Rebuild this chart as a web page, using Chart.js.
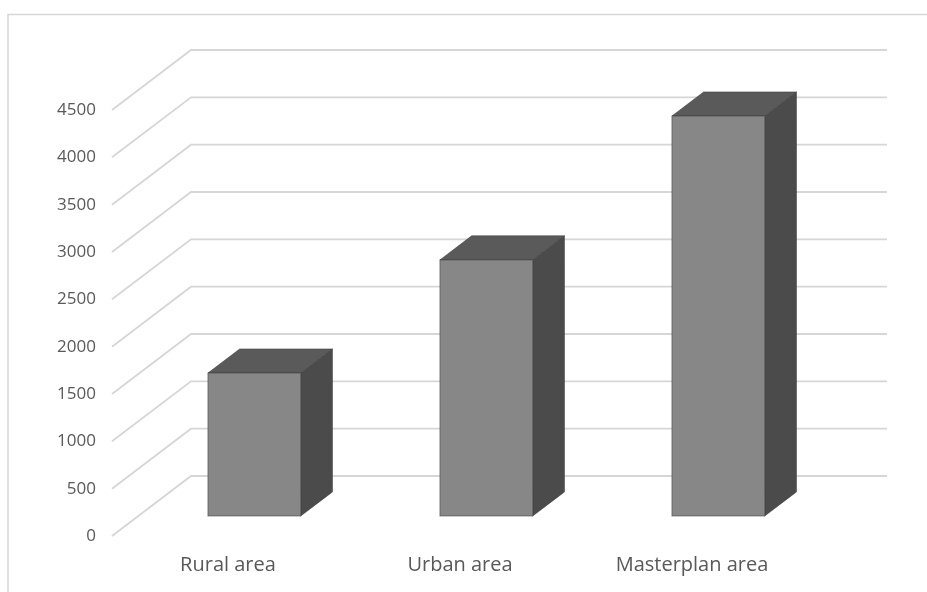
<!DOCTYPE html>
<html>
<head>
<meta charset="utf-8">
<script src="https://cdn.jsdelivr.net/npm/chart.js@4.4.0/dist/chart.umd.min.js"></script>
<style>
  body { margin: 0; background: #fff; }
  canvas { display: block; }
</style>
</head>
<body>
<canvas id="areaChart" width="927" height="592"></canvas>
<script>
const categories = ["Rural area", "Urban area", "Masterplan area"];
const areaValues = [1510, 2705, 4225];
const yMin = 0;
const yMax = 4500;
const yStep = 500;

// oblique offset from the front edge of the floor to the back wall
const depthX = 79;
const depthY = -60;
// the boxes sit between these fractions of that depth
const barFront = 1 / 3;
const barBack = 0.735;

const faceColor = "#878787";
const topColor = "#5a5a5a";
const sideColor = "#4b4b4b";
const gridColor = "#d6d6d6";
const textColor = "#595959";

const wall3d = {
    id: "wall3d",
    beforeDraw(chart) {
        // outer frame, top and left only
        const ctx = chart.ctx;
        ctx.save();
        ctx.strokeStyle = gridColor;
        ctx.lineWidth = 1.5;
        ctx.beginPath();
        ctx.moveTo(8, 592);
        ctx.lineTo(8, 14.5);
        ctx.lineTo(927, 14.5);
        ctx.stroke();
        ctx.restore();
    },
    beforeDatasetsDraw(chart) {
        const { ctx, chartArea, scales } = chart;
        const yScale = scales.y;
        ctx.save();
        ctx.strokeStyle = gridColor;
        ctx.lineWidth = 1.8;
        yScale.ticks.forEach(t => {
            const py = yScale.getPixelForValue(t.value);
            ctx.beginPath();
            ctx.moveTo(chartArea.left, py);
            ctx.lineTo(chartArea.left + depthX, py + depthY);
            ctx.lineTo(chartArea.right + depthX, py + depthY);
            ctx.stroke();
        });
        ctx.restore();
    },
    afterDatasetsDraw(chart) {
        const ctx = chart.ctx;
        const meta = chart.getDatasetMeta(0);
        const ox = depthX * barFront, oy = depthY * barFront;
        const bx = depthX * (barBack - barFront), by = depthY * (barBack - barFront);

        ctx.save();
        ctx.lineWidth = 1;
        ctx.strokeStyle = "rgba(60,60,60,0.55)";
        meta.data.forEach(bar => {
            const p = bar.getProps(["x", "y", "base", "width"], true);
            const l = p.x - p.width / 2 + ox;
            const r = p.x + p.width / 2 + ox;
            const t = p.y + oy;
            const b = p.base + oy;

            // right side
            ctx.fillStyle = sideColor;
            ctx.beginPath();
            ctx.moveTo(r, t);
            ctx.lineTo(r + bx, t + by);
            ctx.lineTo(r + bx, b + by);
            ctx.lineTo(r, b);
            ctx.closePath();
            ctx.fill();
            ctx.stroke();

            // top
            ctx.fillStyle = topColor;
            ctx.beginPath();
            ctx.moveTo(l, t);
            ctx.lineTo(l + bx, t + by);
            ctx.lineTo(r + bx, t + by);
            ctx.lineTo(r, t);
            ctx.closePath();
            ctx.fill();
            ctx.stroke();

            // front
            ctx.fillStyle = faceColor;
            ctx.fillRect(l, t, r - l, b - t);
            ctx.strokeRect(l, t, r - l, b - t);
        });
        ctx.restore();
    }
};

new Chart(document.getElementById("areaChart"), {
    type: "bar",
    data: {
        labels: categories,
        datasets: [{
            data: areaValues,
            backgroundColor: "rgba(0,0,0,0)",
            borderWidth: 0,
            barPercentage: 0.4,
            categoryPercentage: 1
        }]
    },
    options: {
        responsive: false,
        animation: false,
        layout: { padding: { top: 110, right: 119, left: 0, bottom: 0 } },
        plugins: {
            legend: { display: false },
            tooltip: { enabled: false }
        },
        scales: {
            x: {
                grid: { display: false, drawTicks: false },
                border: { display: false },
                ticks: {
                    color: textColor,
                    padding: 17,
                    font: { family: "Open Sans", size: 20 }
                },
                afterFit(scale) { scale.height = 56; }
            },
            y: {
                min: yMin,
                max: yMax,
                grid: { display: false, drawTicks: false },
                border: { display: false },
                ticks: {
                    stepSize: yStep,
                    color: textColor,
                    padding: 16,
                    font: { family: "Open Sans", size: 17 },
                    callback: value => String(value)
                },
                afterFit(scale) { scale.width = 112; }
            }
        }
    },
    plugins: [wall3d]
});
</script>
</body>
</html>
